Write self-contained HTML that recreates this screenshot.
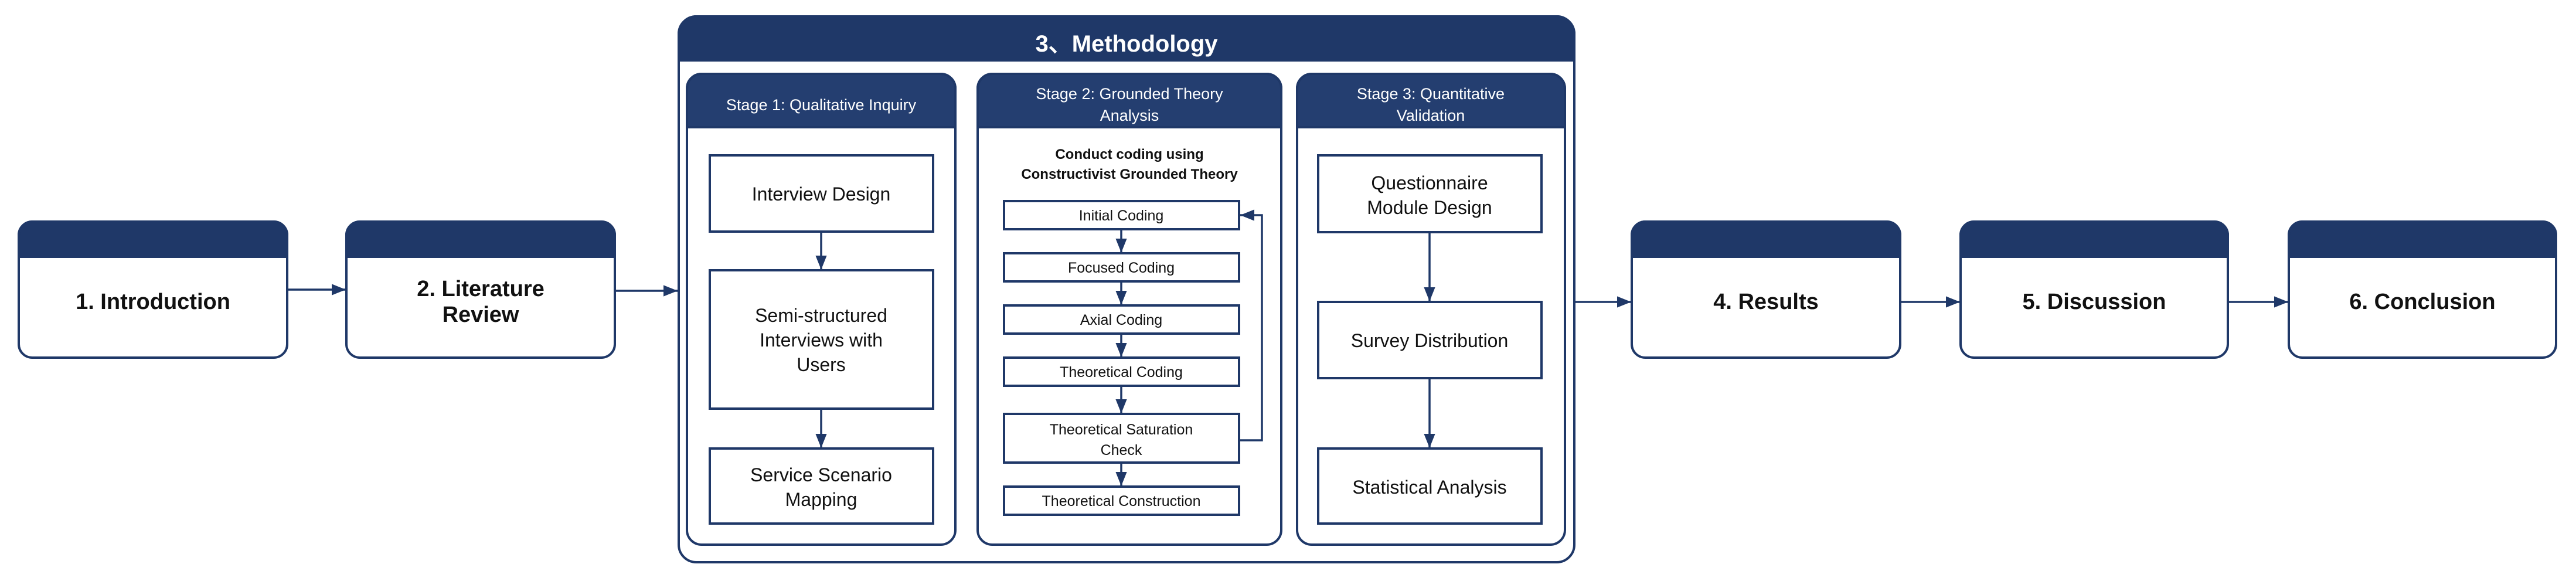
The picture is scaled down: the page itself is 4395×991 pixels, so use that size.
<!DOCTYPE html>
<html><head><meta charset="utf-8"><style>
html,body{margin:0;padding:0;background:#fff;}
svg{display:block;}
text{font-family:"Liberation Sans",Arial,sans-serif;}
</style></head><body>
<svg width="4395" height="991" viewBox="0 0 4395 991" xmlns="http://www.w3.org/2000/svg">
<defs>
<marker id="ar" viewBox="0 0 10 10" refX="10" refY="5" markerWidth="6" markerHeight="6" markerUnits="userSpaceOnUse" orient="auto">
<path d="M0,0 L10,5 L0,10 z" fill="#1f3868"/></marker>
<marker id="arb" viewBox="0 0 10 10" refX="10" refY="5" markerWidth="24" markerHeight="24" markerUnits="userSpaceOnUse" orient="auto">
<path d="M0,1 L10,5 L0,9 z" fill="#1f3868"/></marker>
</defs>
<g stroke="#1f3868" stroke-width="4" fill="none">
<!-- main boxes -->
<g id="boxes">
<path d="M32,401 a23,23 0 0 1 23,-23 h412 a23,23 0 0 1 23,23 v37 h-458z" fill="#1f3868"/>
<rect x="32" y="378" width="458" height="232" rx="23" />
<path d="M591,401 a23,23 0 0 1 23,-23 h412 a23,23 0 0 1 23,23 v37 h-458z" fill="#1f3868"/>
<rect x="591" y="378" width="458" height="232" rx="23" />
<path d="M2784,401 a23,23 0 0 1 23,-23 h412 a23,23 0 0 1 23,23 v37 h-458z" fill="#1f3868"/>
<rect x="2784" y="378" width="458" height="232" rx="23" />
<path d="M3345,401 a23,23 0 0 1 23,-23 h410 a23,23 0 0 1 23,23 v37 h-456z" fill="#1f3868"/>
<rect x="3345" y="378" width="456" height="232" rx="23" />
<path d="M3905,401 a23,23 0 0 1 23,-23 h410 a23,23 0 0 1 23,23 v37 h-456z" fill="#1f3868"/>
<rect x="3905" y="378" width="456" height="232" rx="23" />
</g>
<!-- methodology outer -->
<path d="M1158,58 a30,30 0 0 1 30,-30 h1468 a30,30 0 0 1 30,30 v45 h-1528z" fill="#1f3868"/>
<rect x="1158" y="28" width="1528" height="931" rx="30"/>
<!-- stages -->
<path d="M1172,151 a25,25 0 0 1 25,-25 h408 a25,25 0 0 1 25,25 v66 h-458z" fill="#243e70"/>
<rect x="1172" y="126" width="458" height="803" rx="25"/>
<path d="M1668,151 a25,25 0 0 1 25,-25 h468 a25,25 0 0 1 25,25 v66 h-518z" fill="#243e70"/>
<rect x="1668" y="126" width="518" height="803" rx="25"/>
<path d="M2213,151 a25,25 0 0 1 25,-25 h407 a25,25 0 0 1 25,25 v66 h-457z" fill="#243e70"/>
<rect x="2213" y="126" width="457" height="803" rx="25"/>
<!-- stage1 boxes -->
<rect x="1211" y="265" width="381" height="130"/>
<rect x="1211" y="461" width="381" height="236"/>
<rect x="1211" y="765" width="381" height="128"/>
<!-- stage2 boxes -->
<rect x="1713" y="343" width="401" height="48"/>
<rect x="1713" y="432" width="401" height="48"/>
<rect x="1713" y="521" width="401" height="48"/>
<rect x="1713" y="610" width="401" height="48"/>
<rect x="1713" y="706" width="401" height="83"/>
<rect x="1713" y="830" width="401" height="48"/>
<!-- stage3 boxes -->
<rect x="2249" y="265" width="381" height="131"/>
<rect x="2249" y="515" width="381" height="130"/>
<rect x="2249" y="765" width="381" height="128"/>
</g>
<g stroke="#1f3868" stroke-width="3.5" fill="none" marker-end="url(#arb)">
<line x1="490" y1="494" x2="590" y2="494"/>
<line x1="1049" y1="496" x2="1156" y2="496"/>
<line x1="2686" y1="515" x2="2783" y2="515"/>
<line x1="3242" y1="515" x2="3344" y2="515"/>
<line x1="3801" y1="515" x2="3904" y2="515"/>
<line x1="1401" y1="395" x2="1401" y2="460"/>
<line x1="1401" y1="697" x2="1401" y2="764"/>
<line x1="1913" y1="391" x2="1913" y2="431"/>
<line x1="1913" y1="480" x2="1913" y2="520"/>
<line x1="1913" y1="569" x2="1913" y2="609"/>
<line x1="1913" y1="658" x2="1913" y2="705"/>
<line x1="1913" y1="789" x2="1913" y2="829"/>
<polyline points="2114,751 2153,751 2153,367 2116,367"/>
<line x1="2439" y1="396" x2="2439" y2="514"/>
<line x1="2439" y1="645" x2="2439" y2="764"/>
</g>
<g font-weight="bold" font-size="38" fill="#111" text-anchor="middle">
<text x="261" y="527">1. Introduction</text>
<text x="820" y="505">2. Literature</text>
<text x="820" y="549">Review</text>
<text x="3013" y="527">4. Results</text>
<text x="3573" y="527">5. Discussion</text>
<text x="4133" y="527">6. Conclusion</text>
<text x="1922" y="88" fill="#fff" font-size="40">3、Methodology</text>
</g>
<g font-size="27" fill="#fff" text-anchor="middle">
<text x="1401" y="188">Stage 1: Qualitative Inquiry</text>
<text x="1927" y="169">Stage 2: Grounded Theory</text>
<text x="1927" y="206">Analysis</text>
<text x="2441" y="169">Stage 3: Quantitative</text>
<text x="2441" y="206">Validation</text>
</g>
<g font-weight="bold" font-size="24" fill="#111" text-anchor="middle">
<text x="1927" y="271">Conduct coding using</text>
<text x="1927" y="305">Constructivist Grounded Theory</text>
</g>
<g font-size="32" fill="#111" text-anchor="middle">
<text x="1401" y="342">Interview Design</text>
<text x="1401" y="549">Semi-structured</text>
<text x="1401" y="591">Interviews with</text>
<text x="1401" y="633">Users</text>
<text x="1401" y="821">Service Scenario</text>
<text x="1401" y="863">Mapping</text>
<text x="2439" y="323">Questionnaire</text>
<text x="2439" y="365">Module Design</text>
<text x="2439" y="592">Survey Distribution</text>
<text x="2439" y="842">Statistical Analysis</text>
</g>
<g font-size="25" fill="#111" text-anchor="middle">
<text x="1913" y="376">Initial Coding</text>
<text x="1913" y="465">Focused Coding</text>
<text x="1913" y="554">Axial Coding</text>
<text x="1913" y="643">Theoretical Coding</text>
<text x="1913" y="741">Theoretical Saturation</text>
<text x="1913" y="776">Check</text>
<text x="1913" y="863">Theoretical Construction</text>
</g>
</svg>
</body></html>
